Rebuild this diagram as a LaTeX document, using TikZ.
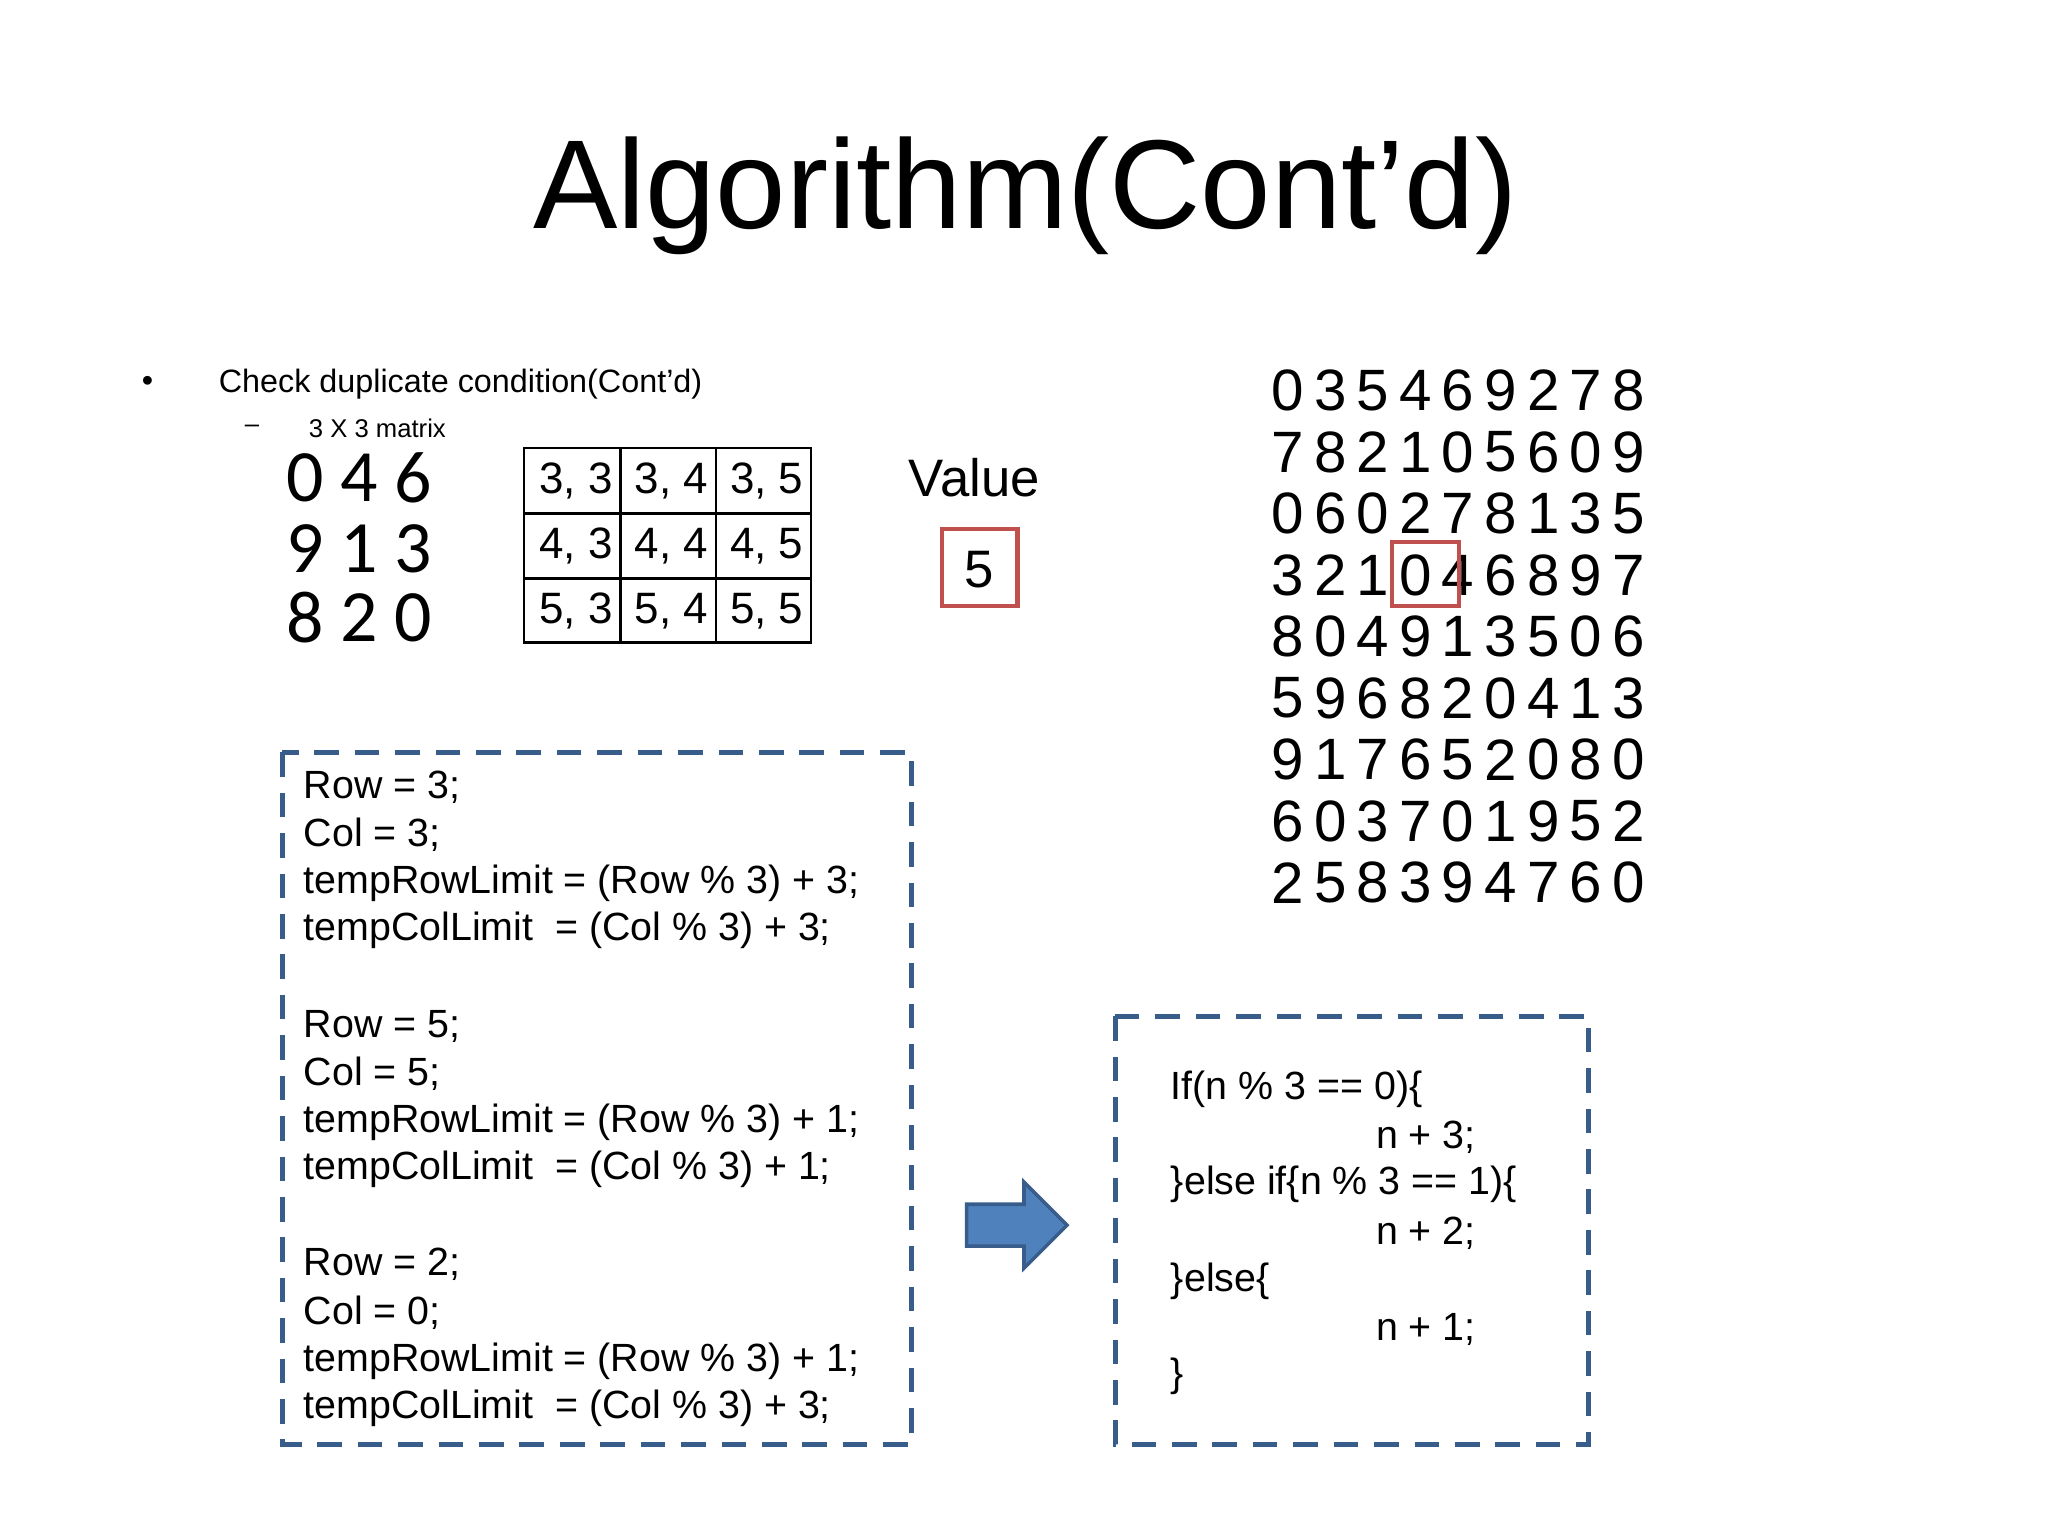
\documentclass[tikz,border=0pt]{standalone}
\usepackage{fontspec}
\setmainfont{Liberation Sans}
\newfontfamily\carlitofam{Carlito}
\definecolor{dblue}{HTML}{385D8A}
\definecolor{lblue}{HTML}{4F81BD}
\definecolor{dred}{HTML}{C0504D}
\begin{document}
\begin{tikzpicture}[x=0.01306cm,y=-0.01306cm,
  txt/.style={inner sep=0pt,anchor=west},
  code/.style={txt,font=\fontsize{11.2}{12}\selectfont},
  dig/.style={inner sep=0pt,font=\fontsize{16.6}{17}\selectfont},
  sdig/.style={inner sep=0pt,font=\carlitofam\fontsize{21}{22}\selectfont},
  cell/.style={inner sep=0pt,font=\fontsize{12.5}{14}\selectfont},
  dbox/.style={draw=dblue,line width=1.4pt,dash pattern=on 7pt off 4.5pt}]
\useasboundingbox (0,0) rectangle (1568,1176);
\node[inner sep=0pt,font=\fontsize{36}{40}\selectfont] (title) at (785,150) {Algorithm(Cont’d)};
\node[txt,font=\fontsize{9.2}{10}\selectfont] (b1) at (108,294) {•};
\node[txt,font=\fontsize{9.2}{10}\selectfont] (t1) at (167,294) {Check duplicate condition(Cont’d)};
\node[txt,font=\fontsize{7.3}{8}\selectfont] (b2) at (187,328) {–};
\node[txt,font=\fontsize{7.3}{8}\selectfont] (t2) at (236,328) {3 X 3 matrix};
% small matrix
\foreach \r/\a/\b/\c [count=\i] in {366/0/4/6,420/9/1/3,473/8/2/0}{
  \node[sdig] (s\i a) at (234,\r) {\a};
  \node[sdig] (s\i b) at (275,\r) {\b};
  \node[sdig] (s\i c) at (316,\r) {\c};
}
% grid
\draw[line width=0.7pt] (401,343) rectangle (621,492);
\foreach \x in {475,548} \draw[line width=0.7pt] (\x,343) -- (\x,492);
\foreach \y in {393,443} \draw[line width=0.7pt] (401,\y) -- (621,\y);
\foreach \r/\yy [count=\i] in {3/368,4/418,5/468}{
  \foreach \c/\xx [count=\j] in {3/441,4/514,5/587}{
    \node[cell] (g\i\j) at (\xx,\yy) {\r, \c};
  }
}
% value
\node[inner sep=0pt,font=\fontsize{15}{16}\selectfont] (vlab) at (746,366) {Value};
\draw[dred,line width=1.2pt] (721,405) rectangle (779,464);
\node[inner sep=0pt,font=\fontsize{15}{16}\selectfont] (v5) at (750,436) {5};
% big matrix
\foreach \row [count=\i] in {{0,3,5,4,6,9,2,7,8},{7,8,2,1,0,5,6,0,9},{0,6,0,2,7,8,1,3,5},{3,2,1,0,4,6,8,9,7},{8,0,4,9,1,3,5,0,6},{5,9,6,8,2,0,4,1,3},{9,1,7,6,5,2,0,8,0},{6,0,3,7,0,1,9,5,2},{2,5,8,3,9,4,7,6,0}}{
  \foreach \d [count=\j] in \row {
    \node[dig] (m\i-\j) at ({986+(\j-1)*32.6},{299+(\i-1)*47.1}) {\d};
  }
}
\draw[dred,line width=1.2pt] (1066,415) rectangle (1117,464);
% left dashed box
\draw[dbox] (216,576) rectangle (698,1106);
\foreach \y/\t in {603/{Row = 3;},639/{Col = 3;},676/{tempRowLimit = (Row \% 3) + 3;},712/{tempColLimit\ \ = (Col \% 3) + 3;},
  786/{Row = 5;},822/{Col = 5;},859/{tempRowLimit = (Row \% 3) + 1;},895/{tempColLimit\ \ = (Col \% 3) + 1;},
  968/{Row = 2;},1005/{Col = 0;},1042/{tempRowLimit = (Row \% 3) + 1;},1078/{tempColLimit\ \ = (Col \% 3) + 3;}}
  \node[code] at (232,\y) {\t};
% arrow
\draw[draw=dblue,fill=lblue,line width=1pt,line join=miter]
  (740,922) -- (784,922) -- (784,905) -- (817,938) -- (784,971) -- (784,954) -- (740,954) -- cycle;
% right dashed box
\draw[dbox] (854,778) rectangle (1216,1106);
\foreach \x/\y/\t in {896/834/{If(n \% 3 == 0)\{},1053/871/{n + 3;},896/907/{\}else if\{n \% 3 == 1)\{},1053/944/{n + 2;},896/981/{\}else\{},1053/1018/{n + 1;},896/1054/{\}}}
  \node[code] at (\x,\y) {\t};
\end{tikzpicture}
\end{document}
